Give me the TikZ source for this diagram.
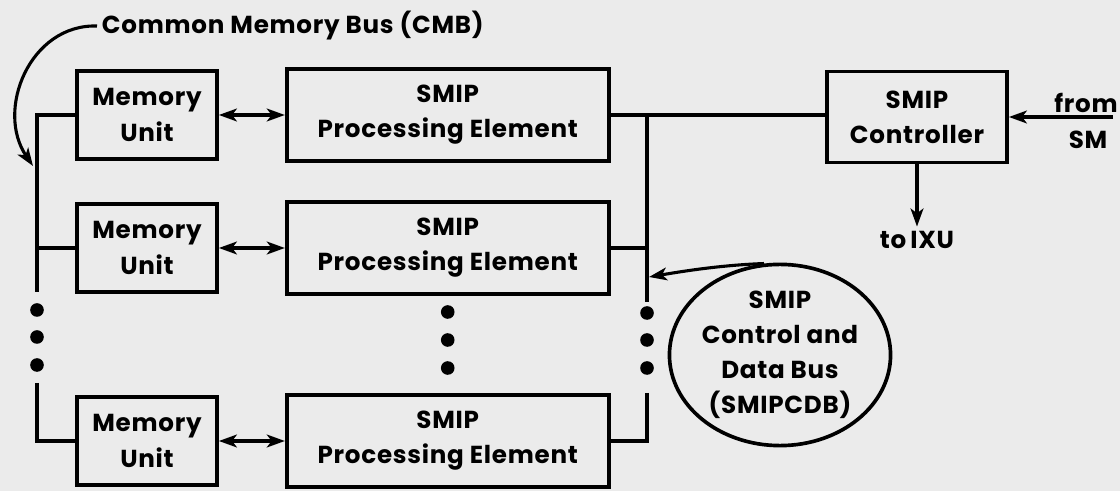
\documentclass[tikz,border=0pt]{standalone}
\usepackage{fontspec}
\setmainfont{Poppins}[LetterSpace=3]
\usetikzlibrary{shapes.geometric, arrows.meta, positioning}

\begin{document}
\begin{tikzpicture}[
  x=0.025cm, y=-0.025cm,
  >={Stealth[length=4.5mm, width=3.2mm, inset=1.2mm]},
  every node/.style={font=\fontsize{17.5}{25}\selectfont\bfseries, align=center},
  blockbox/.style={draw, rectangle, line width=2.6pt, inner sep=2pt},
  mubox/.style={blockbox, minimum width=3.5cm, minimum height=2.2cm},
  pebox/.style={blockbox, minimum width=8.05cm, minimum height=2.3cm},
  ctrlbox/.style={blockbox, minimum width=4.5cm, minimum height=2.27cm},
  busnode/.style={draw, ellipse, line width=2.6pt, minimum width=5cm, minimum height=4.4cm, inner sep=0pt},
  bus/.style={line width=2.2pt},
  flow/.style={->, line width=2.2pt},
  flow2/.style={<->, line width=2.2pt},
  busdot/.style={fill=black}
]
\fill[black!8] (0,0) rectangle (1120,491);
\useasboundingbox (0,0) rectangle (1120,491);

\node[mubox] (MU_1) at (147,115) {Memory\\Unit};
\node[mubox] (MU_2) at (147,248) {Memory\\Unit};
\node[mubox] (MU_3) at (147,441) {Memory\\Unit};

\node[pebox] (PE_1) [right=1.65cm of MU_1] {SMIP\\Processing Element};
\node[pebox] (PE_2) [right=1.65cm of MU_2] {SMIP\\Processing Element};
\node[pebox] (PE_3) [right=1.65cm of MU_3] {SMIP\\Processing Element};

\node[ctrlbox] (Ctrl) at (917,117) {SMIP\\Controller};
\node[busnode] (CDB) at (780,355) {SMIP\\Control and\\Data Bus\\(SMIPCDB)};

\node (CMB_lbl) [anchor=west] at (97,26) {Common Memory Bus (CMB)};
\node (From_lbl) at (1086,103) {from};
\node (SM_lbl) at (1088,140) {SM};
\node (IXU_lbl) [below=1.9cm of Ctrl.south, anchor=center] {to\,IXU};

% common memory bus
\coordinate (CMB_top) at (37,292);
\coordinate (CMB_bot) at (37,383);
\draw[bus] (CMB_top) |- (MU_1.west);
\draw[bus] (MU_2.west) -- (MU_2.west -| CMB_top);
\draw[bus] (CMB_bot) |- (MU_3.west);
\foreach \y in {310,337,365} \fill[busdot] (37,\y) circle (0.17cm);

\draw[flow2] (MU_1) -- (PE_1);
\draw[flow2] (MU_2) -- (PE_2);
\draw[flow2] (MU_3) -- (PE_3);
\foreach \y in {312,340,368} \fill[busdot] (PE_2.center |- 0,\y) circle (0.17cm);

% control and data bus
\coordinate (CDB_top) at (647,302);
\coordinate (CDB_bot) at (647,393);
\coordinate (CDB_tip) at (649,277);
\draw[bus] (PE_1.east) -- (PE_1.east -| Ctrl.west);
\draw[bus] (CDB_top) -- (CDB_top |- PE_1.east);
\draw[bus] (PE_2.east) -- (PE_2.east -| CDB_top);
\draw[bus] (CDB_bot) |- (PE_3.east);
\foreach \y in {313,340,368} \fill[busdot] (647,\y) circle (0.17cm);

\coordinate (SM_in) at (1113,117);
\draw[flow] (SM_in) -- (Ctrl.east);
\draw[flow] (Ctrl.south) -- (IXU_lbl.north);

\draw[flow] (CDB.100) .. controls (725,265) and (690,270) .. (CDB_tip);
\coordinate (CMB_tip) at (33,166);
\draw[flow] (CMB_lbl.west) .. controls (30,24) and (-5,110) .. (CMB_tip);
\end{tikzpicture}
\end{document}
